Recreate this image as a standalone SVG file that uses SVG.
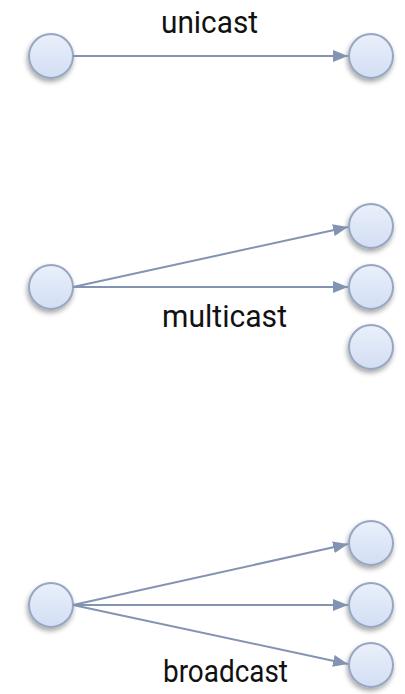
<svg xmlns="http://www.w3.org/2000/svg" width="405" height="694" viewBox="0 0 405 694">
  <defs>
    <linearGradient id="nodeFill" x1="0" y1="0" x2="0" y2="1">
      <stop offset="0" stop-color="#eaf0fb"/>
      <stop offset="1" stop-color="#d3def3"/>
    </linearGradient>
    <filter id="shadow" x="-40%" y="-40%" width="180%" height="190%">
      <feDropShadow dx="-1" dy="3" stdDeviation="2.5" flood-color="#000" flood-opacity="0.35"/>
    </filter>
    <marker id="head" viewBox="0 0 15 12" refX="15" refY="6" markerWidth="15" markerHeight="12" markerUnits="userSpaceOnUse" orient="auto">
      <path d="M0,0 L15,6 L0,12 z" fill="#8394b3"/>
    </marker>
  </defs>
  <style>
    .node circle { fill: url(#nodeFill); stroke: #97a7c2; stroke-width: 2; filter: url(#shadow); }
    .edge { stroke: #8394b3; stroke-width: 2; fill: none; marker-end: url(#head); }
    .label { font-family: Roboto, "Liberation Sans", sans-serif; font-size: 32px; fill: #111; }
  </style>

  <!-- unicast -->
  <g id="u-src" class="node"><circle cx="51" cy="56" r="22"/></g>
  <g id="u-dst" class="node"><circle cx="371" cy="56" r="22"/></g>

  <!-- multicast -->
  <g id="m-src" class="node"><circle cx="51" cy="287" r="22"/></g>
  <g id="m-dst1" class="node"><circle cx="371" cy="226" r="22"/></g>
  <g id="m-dst2" class="node"><circle cx="371" cy="287" r="22"/></g>
  <g id="m-dst3" class="node"><circle cx="371" cy="347" r="22"/></g>

  <!-- broadcast -->
  <g id="b-src" class="node"><circle cx="51" cy="605" r="22"/></g>
  <g id="b-dst1" class="node"><circle cx="371" cy="543" r="22"/></g>
  <g id="b-dst2" class="node"><circle cx="371" cy="605" r="22"/></g>
  <g id="b-dst3" class="node"><circle cx="371" cy="665" r="22"/></g>

  <g id="connectors">
    <line class="edge" x1="73" y1="56" x2="348" y2="56"/>
    <line class="edge" x1="73" y1="287" x2="348" y2="227"/>
    <line class="edge" x1="73" y1="287" x2="348" y2="287"/>
    <line class="edge" x1="73" y1="605" x2="348" y2="544"/>
    <line class="edge" x1="73" y1="605" x2="348" y2="605"/>
    <line class="edge" x1="73" y1="605" x2="348" y2="664"/>
  </g>

  <g id="labels">
    <text class="label" x="161" y="33" textLength="97" lengthAdjust="spacingAndGlyphs">unicast</text>
    <text class="label" x="162" y="327" textLength="125" lengthAdjust="spacingAndGlyphs">multicast</text>
    <text class="label" x="163" y="682" textLength="125" lengthAdjust="spacingAndGlyphs">broadcast</text>
  </g>
</svg>
